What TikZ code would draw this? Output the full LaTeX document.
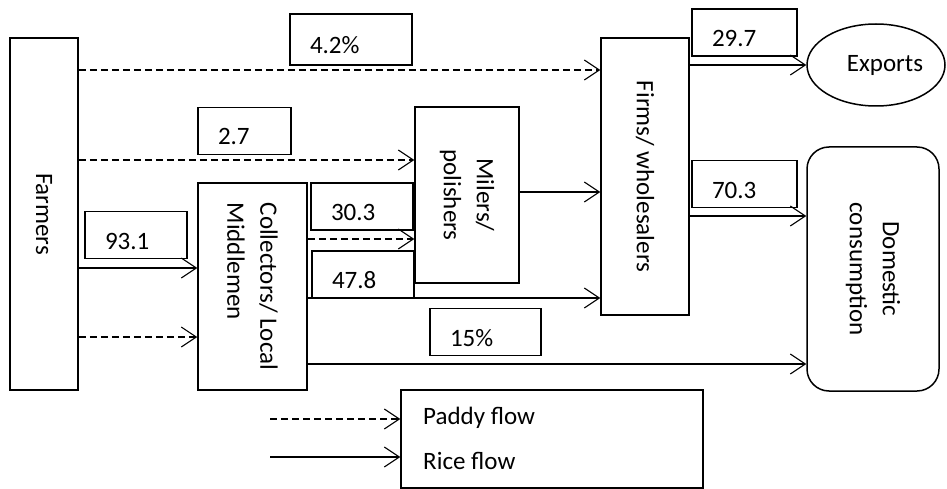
\documentclass[tikz,border=0pt]{standalone}
\usepackage{fontspec}
\setmainfont{Carlito}
\usetikzlibrary{shapes.geometric,arrows.meta}

\begin{document}
\begin{tikzpicture}[
        x=1pt, y=-1pt,
        >={Straight Barb[length=15pt,width=20pt]},
        every node/.style={font=\fontsize{25}{33}\selectfont},
        box/.style={draw, line width=1.5pt, inner sep=0pt},
        vtext/.style={rotate=-90, align=left},
        val/.style={draw, line width=1.5pt, inner xsep=20pt, inner ysep=0pt, align=left,
                    text width=#1, text height=28pt, text depth=0pt, minimum height=47pt},
        paddy/.style={->, line width=1.1pt, dash pattern=on 7pt off 4pt},
        rice/.style={->, line width=1.1pt},
    ]
        \useasboundingbox (0,0) rectangle (947,489);

        % --- Actors ---
        \node[box, minimum width=68pt, minimum height=352pt,
              label={[vtext]center:Farmers}] (farmers) at (44,214) {};
        \node[box, minimum width=109pt, minimum height=207pt,
              label={[vtext]center:Collectors/ Local\\Middlemen}] (collect) at (252.5,286.5) {};
        \node[box, minimum width=104pt, minimum height=176pt,
              label={[vtext, align=center]center:Milers/\\polishers}] (millers) at (467,195) {};
        \node[box, minimum width=88pt, minimum height=277pt,
              label={[vtext]center:Firms/ wholesalers}] (firms) at (645,176.5) {};

        % --- Destinations ---
        \node[box, ellipse, minimum width=138pt, minimum height=82pt,
              label={[xshift=9pt]center:Exports}] (exports) at (876,65) {};
        \node[box, rounded corners=22pt, minimum width=132pt, minimum height=244pt,
              label={[vtext, align=center]center:Domestic\\consumption}] (domestic) at (873,269) {};

        % --- Shares ---
        \node[val=82pt, minimum height=51pt] (v42) at (351,39.5) {4.2\%};
        \node[val=53pt]  (v27)  at (244.5,131)  {2.7};
        \node[val=62pt]  (v931) at (136,235)    {93.1};
        \node[val=62pt]  (v303) at (362,206.5)  {30.3};
        \node[val=62pt]  (v478) at (363,274.5)  {47.8};
        \node[val=71pt]  (v15)  at (485.5,332)  {15\%};
        \node[val=65pt]  (v297) at (744.5,32.5) {29.7};
        \node[val=65pt]  (v703) at (744.5,184)  {70.3};

        % --- Flows ---
        \draw[paddy] (farmers.east |- 0,70)  -- (firms.west |- 0,70);
        \draw[paddy] (farmers.east |- 0,160) -- (millers.west |- 0,160);
        \draw[rice]  (farmers.east |- 0,268) -- (collect.west |- 0,268);
        \draw[paddy] (farmers.east |- 0,337) -- (collect.west |- 0,337);
        \draw[paddy] (collect.east |- 0,239) -- (millers.west |- 0,239);
        \draw[rice]  (collect.east |- 0,298) -- (firms.west |- 0,298);
        \draw[rice]  (millers.east |- 0,192) -- (firms.west |- 0,192);
        \draw[rice]  (collect.east |- 0,364) -- (domestic.west |- 0,364);
        \draw[rice]  (firms.east |- exports.west) -- (exports.west);
        \draw[rice]  (firms.east |- 0,216) -- (domestic.west |- 0,216);

        % --- Legend ---
        \node[box, minimum width=302pt, minimum height=98pt] (legend) at (552,439) {};
        \coordinate (pkey) at (270,419);
        \coordinate (rkey) at (270,457);
        \draw[paddy] (pkey) -- (legend.west |- pkey);
        \draw[rice]  (rkey) -- (legend.west |- rkey);
        \node[anchor=base west, inner sep=0pt] (ptxt) at (423,424) {Paddy flow};
        \node[anchor=base west, inner sep=0pt] (rtxt) at (423,469) {Rice flow};

    \end{tikzpicture}
\end{document}
